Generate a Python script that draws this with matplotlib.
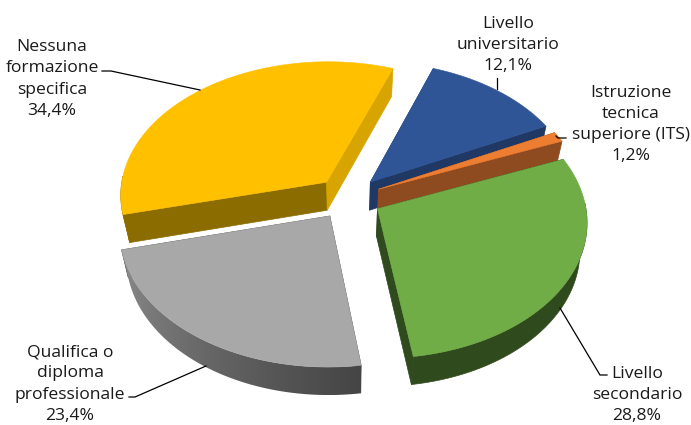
import numpy as np
import matplotlib
matplotlib.use('Agg')
import matplotlib.pyplot as plt
from matplotlib.patches import Polygon
from matplotlib.colors import LinearSegmentedColormap

# quote per livello di formazione, in senso orario a partire dal settore blu
labels = ['Livello\nuniversitario\n12,1%',
          'Istruzione\ntecnica\nsuperiore (ITS)\n1,2%',
          'Livello\nsecondario\n28,8%',
          'Qualifica o\ndiploma\nprofessionale\n23,4%',
          'Nessuna\nformazione\nspecifica\n34,4%']
values = [12.1, 1.2, 28.8, 23.4, 34.4]
top_colors = ['#2F5597', '#ED7D31', '#70AD47', '#A8A8A8', '#FFC000']
start_wall = ['#1F3864', '#8E4B20', '#2F4A1C', '#4A4A4A', '#8B6C00']
end_wall = ['#1F3864', '#8E4B20', '#2F4A1C', '#4A4A4A', '#D8A400']
rim_right = ['#1F3864', '#8E4B20', '#2F4A1C', '#454545', '#8B6C00']
rim_left = ['#1F3864', '#8E4B20', '#2F4A1C', '#8E8E8E', '#8B6C00']

label_xy = [(508, 45), (631, 124.5), (637, 395), (70, 384), (52, 79)]
leaders = [[(497, 78), (497, 89)],
           [(566, 138), (558, 138), (556, 136)],
           [(607, 375), (600, 375), (560, 308)],
           [(129, 397), (135, 397), (206, 366)],
           [(102, 71), (111, 71), (200, 90)]]

# geometria della torta
cx, cy = 348.5, 198
rx, ry = 207, 134
persp = 0.09
explode = 0.16
depth = 28
bottom_scale = 0.97
start_angle = 20.0
draw_order = [4, 0, 1, 3, 2]


def project(t, r, off_u=0.0, off_v=0.0, low=False):
    u = r * np.sin(t) + off_u
    v = r * np.cos(t) + off_v
    s = 1 / (1 + persp * v)
    x = cx + rx * u * s
    y = cy - ry * v * s
    if low:
        x = cx + (x - cx) * bottom_scale
        y = y + depth
    return x, y


fig = plt.figure(figsize=(6.91, 4.25), dpi=100)
ax = fig.add_axes([0, 0, 1, 1])
ax.set_xlim(0, 691)
ax.set_ylim(425, 0)
ax.axis('off')

edges = np.radians(start_angle + np.concatenate([[0], np.cumsum(values)]) * 360 / sum(values))

for i in draw_order:
    t0, t1 = edges[i], edges[i + 1]
    mid = (t0 + t1) / 2
    ou, ov = explode * np.sin(mid), explode * np.cos(mid)
    ts = np.linspace(t0, t1, max(int(np.degrees(t1 - t0)) * 2, 2) + 1)
    xs, ys = project(ts, 1, ou, ov)
    xl, yl = project(ts, 1, ou, ov, low=True)

    # pareti radiali
    for t, col in ((t0, start_wall[i]), (t1, end_wall[i])):
        a = project(t, 0, ou, ov)
        b = project(t, 1, ou, ov)
        c = project(t, 1, ou, ov, low=True)
        d = project(t, 0, ou, ov, low=True)
        ax.add_patch(Polygon([a, b, c, d], closed=True, fc=col, ec=col, lw=0.5))

    # bordo esterno, solo la parte verso chi guarda
    front = np.cos(ts) < 0.05
    if front.any():
        rim = list(zip(xs[front], ys[front])) + list(zip(xl[front][::-1], yl[front][::-1]))
        if rim_left[i] == rim_right[i]:
            ax.add_patch(Polygon(rim, closed=True, fc=rim_right[i], ec=rim_right[i], lw=0.5))
        else:
            # sfumatura orizzontale ritagliata sul bordo
            cmap = LinearSegmentedColormap.from_list('rim', [rim_left[i], rim_right[i]])
            patch = Polygon(rim, closed=True, fc='none', ec='none', transform=ax.transData)
            ax.add_patch(patch)
            x0, x1 = min(p[0] for p in rim), max(p[0] for p in rim)
            y0, y1 = min(p[1] for p in rim), max(p[1] for p in rim)
            grad = np.linspace(0, 1, 256).reshape(1, -1) ** 0.6
            im = ax.imshow(grad, extent=(x0, x1, y1, y0), cmap=cmap, aspect='auto', zorder=1)
            im.set_clip_path(patch)

    # faccia superiore
    apex = project(0, 0, ou, ov)
    pts = [apex] + list(zip(xs, ys))
    ax.add_patch(Polygon(pts, closed=True, fc=top_colors[i], ec=top_colors[i], lw=0.4, zorder=1))

ax.set_xlim(0, 691)
ax.set_ylim(425, 0)

for pts in leaders:
    ax.plot(*zip(*pts), color='black', lw=0.9, solid_joinstyle='miter')

for text, (x, y) in zip(labels, label_xy):
    ax.text(x, y, text, ha='center', va='center', fontsize=12.6, color='#1a1a1a',
            linespacing=1.44, family=['Open Sans', 'DejaVu Sans'])

fig.savefig('out.png', dpi=100)
